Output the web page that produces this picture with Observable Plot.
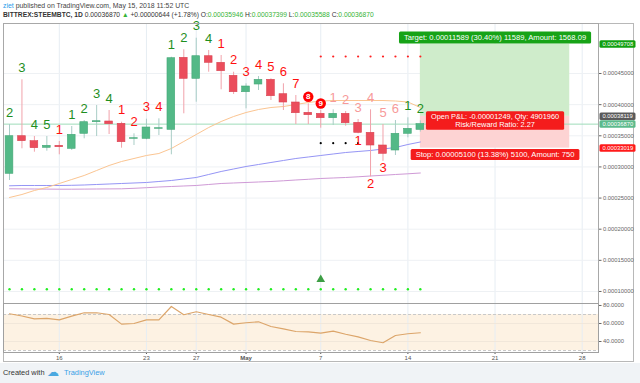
<!DOCTYPE html>
<html><head><meta charset="utf-8">
<script src="https://cdn.jsdelivr.net/npm/d3@7"></script>
<script src="https://cdn.jsdelivr.net/npm/@observablehq/plot@0.6"></script>
<style>
body{margin:0;width:640px;height:383px;position:relative;background:#fff;font-family:"Liberation Sans",Arial,sans-serif;overflow:hidden}
.abs{position:absolute;white-space:nowrap}
#h1{left:3px;top:1.5px;font-size:6.9px;color:#444}
#h2{left:3px;top:11px;font-size:6.7px;color:#333}
#h1 .u{color:#2a9bea}
#h2 .g{color:#36b336}
#frame{left:3px;top:23px;width:631px;height:339px;border:1px solid #b8b8b8;box-sizing:border-box}
#foot{left:0;top:363px;width:640px;height:20px;background:#f0f3f6}
#foot span{position:absolute;top:5px;font-size:7.4px}
#main{left:3px;top:23px}
#rsi{left:3px;top:303px}
</style></head><body>
<div id="h1" class="abs"><span class="u">ziet</span> published on TradingView.com, May 15, 2018 11:52 UTC</div>
<div id="h2" class="abs"><b>BITTREX:STEEMBTC, 1D</b> 0.00036870 <span class="g">▲</span> +0.00000644 (+1.78%) O:<span class="g">0.00035946</span> H:<span class="g">0.00037399</span> L:<span class="g">0.00035588</span> C:<span class="g">0.00036870</span></div>
<div id="frame" class="abs"></div>
<div id="main" class="abs"></div>
<div id="rsi" class="abs"></div>
<div id="foot" class="abs"><span style="left:3px;color:#333">Created with</span><span style="left:47px;top:2px;font-size:12px;color:#4aa8e0">☁</span><span style="left:64px;color:#3aa0e6">TradingView</span></div>
<script>
const dates = ["2018-04-12","2018-04-13","2018-04-14","2018-04-15","2018-04-16","2018-04-17","2018-04-18","2018-04-19","2018-04-20","2018-04-21","2018-04-22","2018-04-23","2018-04-24","2018-04-25","2018-04-26","2018-04-27","2018-04-28","2018-04-29","2018-04-30","2018-05-01","2018-05-02","2018-05-03","2018-05-04","2018-05-05","2018-05-06","2018-05-07","2018-05-08","2018-05-09","2018-05-10","2018-05-11","2018-05-12","2018-05-13","2018-05-14","2018-05-15"];
const open  = [0.00028897,0.00034933,0.00034131,0.00033071,0.00033392,0.00032910,0.00035319,0.00037181,0.00037294,0.00036924,0.00034516,0.00034516,0.00036121,0.00035961,0.00047521,0.00044149,0.00047777,0.00046718,0.00044631,0.00041998,0.00043234,0.00043988,0.00041677,0.00040344,0.00038690,0.00038530,0.00037823,0.00038530,0.00037085,0.00035479,0.00033440,0.00032638,0.00035319,0.00035946];
const high  = [0.00036812,0.00043988,0.00034885,0.00034885,0.00034083,0.00036491,0.00037454,0.00039862,0.00039060,0.00037181,0.00035319,0.00037663,0.00037727,0.00047617,0.00048805,0.00050667,0.00048693,0.00047890,0.00045209,0.00043346,0.00044518,0.00044149,0.00043346,0.00041468,0.00040135,0.00039060,0.00039172,0.00038900,0.00037615,0.00039172,0.00036800,0.00037454,0.00037888,0.00037399];
const low   = [0.00027821,0.00032910,0.00032365,0.00032525,0.00031947,0.00032638,0.00034516,0.00034885,0.00035206,0.00033007,0.00033440,0.00034355,0.00035046,0.00031947,0.00038530,0.00040392,0.00045209,0.00042383,0.00041628,0.00039332,0.00042271,0.00040665,0.00039060,0.00036812,0.00036812,0.00036218,0.00036651,0.00036539,0.00035319,0.00028400,0.00030900,0.00031835,0.00034677,0.00035588];
const close = [0.00034933,0.00034131,0.00033007,0.00033392,0.00033167,0.00035158,0.00037181,0.00037342,0.00036860,0.00033970,0.00034612,0.00036330,0.00036218,0.00047456,0.00044149,0.00047777,0.00046718,0.00045369,0.00041998,0.00042913,0.00043988,0.00041355,0.00040344,0.00038626,0.00038305,0.00037823,0.00038530,0.00037021,0.00035479,0.00033440,0.00032108,0.00035319,0.00036121,0.00036870];
const maFast = [0.00025092,0.00025573,0.00026216,0.00026697,0.00027339,0.00027982,0.00028624,0.00029427,0.00030229,0.00030872,0.00031353,0.00031835,0.00032156,0.00032959,0.00034083,0.00035206,0.00036330,0.00037294,0.00038096,0.00038738,0.00039220,0.00039541,0.00039702,0.00040023,0.00040344,0.00040585,0.00040665,0.00040665,0.00040665,0.00040665,0.00040665,0.00040585,0.00040424,0.00039541];
const maMid  = [0.00026970,0.00027018,0.00027018,0.00027018,0.00027018,0.00027050,0.00027098,0.00027179,0.00027259,0.00027339,0.00027420,0.00027500,0.00027661,0.00027821,0.00028062,0.00028303,0.00028784,0.00029266,0.00029667,0.00030069,0.00030390,0.00030711,0.00031032,0.00031353,0.00031594,0.00031835,0.00032076,0.00032316,0.00032477,0.00032638,0.00032878,0.00033119,0.00033601,0.00034002];
const maSlow = [0.00026488,0.00026472,0.00026456,0.00026440,0.00026424,0.00026424,0.00026440,0.00026456,0.00026472,0.00026488,0.00026568,0.00026665,0.00026777,0.00026858,0.00026938,0.00027018,0.00027179,0.00027339,0.00027420,0.00027500,0.00027580,0.00027661,0.00027773,0.00027901,0.00028014,0.00028142,0.00028222,0.00028303,0.00028415,0.00028543,0.00028656,0.00028784,0.00028896,0.00029024];
const rsi = [70.8,68.3,65.2,65.6,64.1,68.1,71.9,71.9,70.0,59.3,60.0,64.1,64.1,78.9,69.7,73.0,70.0,67.0,59.3,60.8,61.9,56.7,54.1,51.1,50.8,49.3,51.5,48.1,45.2,41.1,38.6,46.7,48.6,49.7];
const tdText = ["2","3","4","5","1","1","2","3","4","1","2","3","4","1","2","3","4","1","2","3","4","5","6","7","8","9","1","2","3","4","5","6","1","2"];
const tdKind = ["g","g","g","g","r","g","g","g","g","r","r","r","r","g","g","g","g","r","r","r","r","r","r","r","c","c","p","p","p","p","p","p","g","g"];
const tdBelowDates = ["2018-05-10","2018-05-11","2018-05-12"];
const tdBelowText = ["1","2","3"];
const resistDates = ["2018-05-07","2018-05-08","2018-05-09","2018-05-10","2018-05-11","2018-05-12","2018-05-13","2018-05-14","2018-05-15"];
const resistLevel = 0.00047729;
const supportDates = ["2018-05-07","2018-05-08","2018-05-09","2018-05-10"];
const supportLevel = 0.0003381;
const signalLevel = 0.0001037;
const buySignalDate = "2018-05-07";
const buySignalLevel = 0.0001193;
const entry = 0.00038119, target = 0.00049708, stop = 0.00033019, lastClose = 0.0003687;
const posStart = "2018-05-15", posEnd = "2018-05-27", posMid = "2018-05-21";
const targetText = "Target: 0.00011589 (30.40%) 11589, Amount: 1568.09";
const pnlText = "Open P&L: -0.00001249, Qty: 4901960\nRisk/Reward Ratio: 2.27";
const stopText = "Stop: 0.00005100 (13.38%) 5100, Amount: 750";
const priceTicks = [0.0001,0.00015,0.0002,0.00025,0.0003,0.00035,0.0004,0.00045];
const hlPrices = [0.00049708,0.00038119,0.0003687,0.00033019];
const hlColors = ["#10a010","#5a5a5a","#5cba8c","#ff1a1a"];
const dateTicks = ["2018-04-16","2018-04-23","2018-04-27","2018-05-01","2018-05-07","2018-05-14","2018-05-21","2018-05-28"];
const dateTickLabels = ["16","23","27","May","7","14","21","28"];
const rsiTicks = [40,60,80];
const rsiBands = [30,70];

const DAY = 864e5;
const D = s => new Date(s);
const candles = dates.map((d,i)=>({date:D(d),open:open[i],high:high[i],low:low[i],close:close[i],fast:maFast[i],mid:maMid[i],slow:maSlow[i],rsi:rsi[i],td:tdText[i],kind:tdKind[i]}));
const up = candles.filter(d=>d.close>=d.open), down = candles.filter(d=>d.close<d.open);
const x0 = D(dates[0]);
const xDomain = [new Date(+x0 - 0.482*DAY), new Date(+x0 + 47.31*DAY)];
const FONT = '"Liberation Sans", Arial, sans-serif';
const gridCol = "#e6edf3";
const UPC = "#53b987", DNC = "#eb4d5c";
const bx1 = d => new Date(+d.date - 0.31*DAY), bx2 = d => new Date(+d.date + 0.31*DAY);
const fmt8 = d3.format(".8f");

const main = Plot.plot({
  width: 632, height: 280, marginLeft: 0, marginRight: 37, marginTop: 0, marginBottom: 0,
  x: {type: "utc", domain: xDomain, axis: null},
  y: {domain: [0.0000807, 0.0005303], axis: null},
  style: {fontFamily: FONT, background: "transparent", overflow: "visible"},
  marks: [
    Plot.gridX(dateTicks.map(D), {stroke: gridCol, strokeOpacity: 1}),
    Plot.gridY(priceTicks, {stroke: "#eef1f4", strokeOpacity: 1}),
    Plot.rect([{a: D(posStart), b: D(posEnd), y1: entry, y2: target}], {x1: "a", x2: "b", y1: "y1", y2: "y2", fill: "#cfeccb"}),
    Plot.rect([{a: D(posStart), b: D(posEnd), y1: stop, y2: entry}], {x1: "a", x2: "b", y1: "y1", y2: "y2", fill: "#fdd3d3"}),
    Plot.ruleY([lastClose], {stroke: "#9fdcb9", strokeWidth: 1}),
    Plot.line(candles, {x: "date", y: "slow", stroke: "#cf9ad6", strokeWidth: 1}),
    Plot.line(candles, {x: "date", y: "mid", stroke: "#9595f5", strokeWidth: 1}),
    Plot.line(candles, {x: "date", y: "fast", stroke: "#fbc592", strokeWidth: 1}),
    Plot.ruleX(up, {x: "date", y1: "low", y2: "high", stroke: "#a9cdc6"}),
    Plot.ruleX(down, {x: "date", y1: "low", y2: "high", stroke: "#f1a2aa"}),
    Plot.rect(up, {x1: bx1, x2: bx2, y1: "open", y2: "close", fill: UPC, stroke: "#45a777", strokeWidth: 0.6}),
    Plot.rect(down, {x1: bx1, x2: bx2, y1: "open", y2: "close", fill: DNC, stroke: "#d94452", strokeWidth: 0.6}),
    Plot.dot(resistDates.map(d => ({d: D(d), v: resistLevel})), {x: "d", y: "v", r: 1.1, fill: "#ff2020", stroke: null}),
    Plot.dot(supportDates.map(d => ({d: D(d), v: supportLevel})), {x: "d", y: "v", r: 1.1, fill: "#000", stroke: null}),
    Plot.dot(candles, {x: "date", y: () => signalLevel, r: 1.2, fill: "#22ee22", stroke: null}),
    Plot.dot([{d: D(buySignalDate), v: buySignalLevel}], {x: "d", y: "v", symbol: "triangle", r: 3.2, fill: "#3d9e45"}),
    Plot.text(candles.filter(d => d.kind === "g"), {x: "date", y: "high", text: "td", dy: -12, fill: "#1f8f1f", fontSize: 13}),
    Plot.text(candles.filter(d => d.kind === "r"), {x: "date", y: "high", text: "td", dy: -12, fill: "#ff1010", fontSize: 13}),
    Plot.text(candles.filter(d => d.kind === "p"), {x: "date", y: "high", text: "td", dy: -12, fill: "#f79a9a", fontSize: 13}),
    Plot.dot(candles.filter(d => d.kind === "c"), {x: "date", y: "high", dy: -7, r: 5.2, fill: "#ff0000", stroke: null}),
    Plot.text(candles.filter(d => d.kind === "c"), {x: "date", y: "high", text: "td", dy: -7, fill: "#fff", fontSize: 8, fontWeight: "bold"}),
    Plot.text(tdBelowDates.map((d, i) => ({d: D(d), v: low[dates.indexOf(d)], t: tdBelowText[i]})), {x: "d", y: "v", text: "t", dy: 7, fill: "#ff1010", fontSize: 13}),
    Plot.text([{d: D(posMid), v: target, t: targetText}], {x: "d", y: "v", text: "t", dy: -6.5, fill: "#fff", fontSize: 7.6}),
    Plot.text([{d: D(posMid), v: entry, t: pnlText}], {x: "d", y: "v", text: "t", dy: 4, fill: "#fff", fontSize: 7.4, lineHeight: 1.12}),
    Plot.text([{d: D(posMid), v: stop, t: stopText}], {x: "d", y: "v", text: "t", dy: 6.5, fill: "#fff", fontSize: 7.6}),
    Plot.axisY(priceTicks, {anchor: "right", tickFormat: fmt8, tickSize: 2.5, tickPadding: 2, fontSize: 5.8, color: "#666", label: null}),
    Plot.text(hlPrices, {y: d => d, text: d => fmt8(d), frameAnchor: "right", dx: 4, textAnchor: "start", fill: "#fff", fontSize: 5.8}),
    Plot.frame({stroke: "#a8a8a8"})
  ]
});
document.getElementById("main").appendChild(main);

const rsiPlot = Plot.plot({
  width: 632, height: 59, marginLeft: 0, marginRight: 37, marginTop: 0, marginBottom: 10,
  x: {type: "utc", domain: xDomain},
  y: {domain: [27.8, 82.2], axis: null},
  style: {fontFamily: FONT, background: "transparent", overflow: "visible"},
  marks: [
    Plot.rect([{a: rsiBands[0], b: rsiBands[1]}], {y1: "a", y2: "b", fill: "#fdf2e3"}),
    Plot.gridX(dateTicks.map(D), {stroke: gridCol, strokeOpacity: 1}),
    Plot.gridY([40, 60], {stroke: "#f1e7da", strokeOpacity: 1}),
    Plot.ruleY(rsiBands, {stroke: "#c9c9c9", strokeDasharray: "3,2"}),
    Plot.line(candles, {x: "date", y: "rsi", stroke: "#dca56a", strokeWidth: 1.2}),
    Plot.axisY(rsiTicks, {anchor: "right", tickFormat: d3.format(".4f"), tickSize: 2.5, tickPadding: 2, fontSize: 5.8, color: "#666", label: null}),
    Plot.axisX(dateTicks.map(D), {tickFormat: (d, i) => dateTickLabels[i], tickSize: 2, tickPadding: 1, fontSize: 6, color: "#555", label: null}),
    Plot.frame({stroke: "#a0a0a0"})
  ]
});
document.getElementById("rsi").appendChild(rsiPlot);

// background boxes behind label texts, found by their text
const NS = "http://www.w3.org/2000/svg";
function boxFor(t, fill, px, py, fixedW) {
  const b = t.getBBox();
  const r = document.createElementNS(NS, "rect");
  r.setAttribute("x", b.x - px);
  r.setAttribute("y", b.y - py);
  r.setAttribute("width", fixedW || (b.width + 2 * px));
  r.setAttribute("height", b.height + 2 * py);
  r.setAttribute("rx", 1.5);
  r.setAttribute("fill", fill);
  if (t.getAttribute("transform")) r.setAttribute("transform", t.getAttribute("transform"));
  t.parentNode.insertBefore(r, t);
}
const hlStr = hlPrices.map(fmt8);
Array.from(main.querySelectorAll("text")).forEach(t => {
  const s = t.textContent;
  if (s.startsWith("Target:")) boxFor(t, "#17a317", 5, 1.5);
  else if (s.startsWith("Open P&L")) boxFor(t, "#f41c1c", 5, 0.5);
  else if (s.startsWith("Stop:")) boxFor(t, "#f41c1c", 5, 1);
  else {
    const k = hlStr.indexOf(s);
    if (k >= 0) boxFor(t, hlColors[k], 3, 0.8, 36);
  }
});
rsiPlot.querySelectorAll("text").forEach(t => { if (t.textContent === "May") t.setAttribute("font-weight", "bold"); });
</script>
</body></html>
